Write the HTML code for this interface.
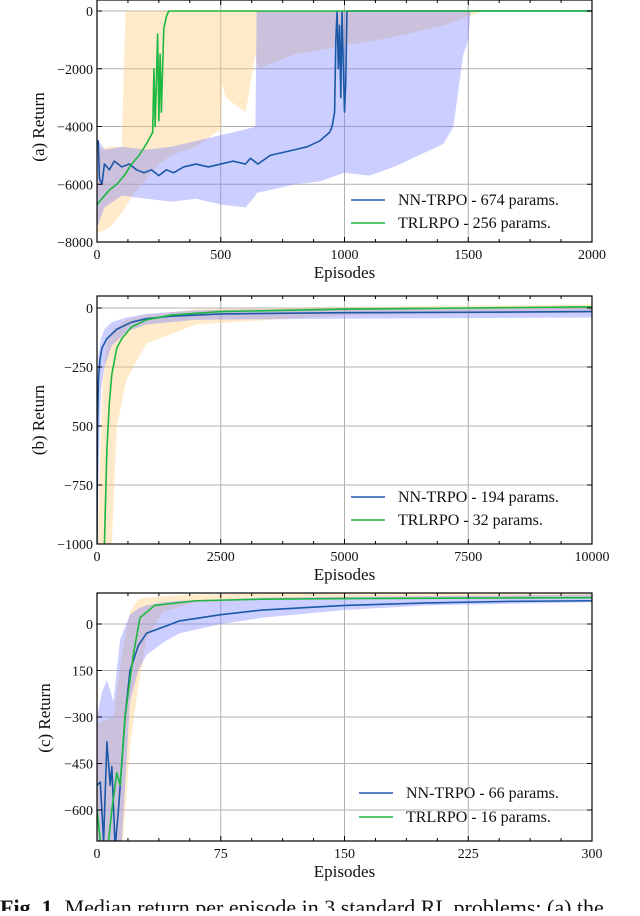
<!DOCTYPE html>
<html><head><meta charset="utf-8"><style>
body{margin:0;background:#fff;width:640px;height:911px;overflow:hidden}
svg text{font-family:"Liberation Serif",serif;fill:#111}
</style></head><body>
<svg id="fig" width="640" height="911" viewBox="0 0 640 911" xmlns="http://www.w3.org/2000/svg"></svg>
<script>
// ---- Panel (a) data ----
const aBlueX=[0,5,10,20,30,50,70,100,130,160,190,220,250,280,310,350,400,450,500,550,600,620,650,700,750,800,850,900,940,950,960,965,970,975,980,985,990,995,1000,1005,1010,2000];
const aBlueY=[-4600,-4500,-5800,-6000,-5300,-5500,-5200,-5400,-5300,-5500,-5600,-5500,-5700,-5500,-5600,-5400,-5300,-5400,-5300,-5200,-5300,-5100,-5300,-5000,-4900,-4800,-4700,-4500,-4200,-4000,-3500,-1000,0,-2000,-500,-3000,0,-1800,-3500,-2500,0,0];
const aGreenX=[0,20,50,80,110,140,170,200,225,230,235,245,250,255,260,265,270,280,290,2000];
const aGreenY=[-6700,-6500,-6200,-6000,-5700,-5300,-5000,-4600,-4200,-2000,-4000,-800,-3800,-1500,-3500,-2000,-600,-200,0,0];
const aOrX=[0,50,100,115,150,200,250,300,400,500,505,520,600,640,650,800,1000,1200,1400,1560,2000];
const aOrLo=[-7700,-7500,-7000,-6800,-6300,-5800,-5300,-5000,-4700,-4100,-2500,-3000,-3500,-1500,-2000,-1500,-1200,-900,-500,0,0];
const aOrHi=[-4800,-4700,-4700,0,0,0,0,0,0,0,0,0,0,0,0,0,0,0,0,0,0];
const aBbX=[0,30,100,200,300,400,500,600,640,645,700,800,900,1000,1100,1200,1300,1400,1440,1480,1500,1510,2000];
const aBbLo=[-7500,-6800,-6400,-6500,-6600,-6500,-6700,-6800,-6400,-6300,-6200,-6000,-5900,-5600,-5700,-5400,-5000,-4600,-4000,-1500,-1000,0,0];
const aBbHi=[-4400,-4800,-4700,-4800,-4700,-4500,-4300,-4100,-4000,0,0,0,0,0,0,0,0,0,0,0,0,0,0];
const aXTicks=[0,500,1000,1500,2000];
const aYTicks=[0,-2000,-4000,-6000,-8000];
const aYLabels=["0","\u22122000","\u22124000","\u22126000","\u22128000"];
// ---- Panel (b) data ----
const bBlueX=[0,10,30,60,100,200,400,700,1000,1500,2500,5000,7500,10000];
const bBlueY=[-1000,-500,-300,-220,-170,-130,-90,-60,-45,-35,-25,-20,-18,-15];
const bGreenX=[150,200,250,300,400,500,700,1000,1500,2500,5000,7500,10000];
const bGreenY=[-1000,-600,-400,-280,-170,-130,-80,-50,-30,-15,-5,0,5];
const bBbX=[0,30,80,150,300,600,1000,2000,5000,10000];
const bBbLo=[-1000,-700,-350,-250,-160,-100,-70,-50,-45,-40];
const bBbHi=[-300,-200,-130,-90,-60,-40,-25,-10,0,5];
const bOrX=[0,120,200,300,400,600,1000,2000,5000,10000];
const bOrLo=[-1000,-1000,-1000,-1000,-500,-300,-150,-70,-30,-20];
const bOrHi=[-1000,-300,-150,-100,-80,-50,-30,-5,5,15];
const bXTicks=[0,2500,5000,7500,10000];
const bYTicks=[0,-250,-500,-750,-1000];
const bYLabels=["0","\u2212250","500","\u2212750","\u22121000"];
// ---- Panel (c) data ----
const cBlueX=[0,2,4,6,8,9,11,13,17,20,25,30,40,50,75,100,150,200,250,300];
const cBlueY=[-520,-510,-700,-380,-520,-460,-720,-600,-300,-150,-70,-30,-10,10,30,45,60,68,73,75];
const cGreenX=[0,2,5,9,12,14,17,22,26,35,60,100,150,300];
const cGreenY=[-600,-700,-800,-600,-480,-520,-300,-100,20,60,75,80,82,85];
const cBbX=[0,3,6,10,14,20,25,30,40,50,75,100,150,200,300];
const cBbLo=[-750,-800,-800,-800,-800,-250,-150,-100,-60,-30,0,20,45,60,70];
const cBbHi=[-300,-220,-180,-250,-50,30,50,60,70,75,80,85,88,90,95];
const cOrX=[0,10,15,20,25,30,40,60,100,300];
const cOrLo=[-800,-800,-750,-400,-200,-50,40,70,78,88];
const cOrHi=[-320,-300,-100,40,80,85,90,95,98,102];
const cXTicks=[0,75,150,225,300];
const cYTicks=[0,-150,-300,-450,-600];
const cYLabels=["0","150","\u2212300","\u2212450","\u2212600"];

const NS="http://www.w3.org/2000/svg";
const svg=document.getElementById('fig');
function mk(tag,attrs,parent){const e=document.createElementNS(NS,tag);for(const k in attrs)e.setAttribute(k,attrs[k]);(parent||svg).appendChild(e);return e;}

function panel(p){
  const g=mk('g',{});
  
  
  const sx=v=>p.x0+(v-p.xmin)/(p.xmax-p.xmin)*(p.x1-p.x0);
  const sy=v=>p.yz+(v-p.ymaxRef)/(p.yminRef-p.ymaxRef)*(p.yb-p.yz);
  const clipId='clip-'+p.name;
  const cp=mk('clipPath',{id:clipId},g);mk('rect',{x:p.x0,y:p.top,width:p.x1-p.x0,height:p.bottom-p.top},cp);
  p.xt.forEach(v=>{const l=mk('line',{x1:sx(v),x2:sx(v),y1:p.top,y2:p.bottom,stroke:'#b0b0b0','stroke-width':1},g);});
  p.yt.forEach(v=>{const l=mk('line',{x1:p.x0,x2:p.x1,y1:sy(v),y2:sy(v),stroke:'#b0b0b0','stroke-width':1},g);});
  const cg=mk('g',{'clip-path':'url(#'+clipId+')'},g);
  function band(X,Lo,Hi,fill,nm){
    let pts=X.map((x,i)=>sx(x)+','+sy(Hi[i]));
    for(let i=X.length-1;i>=0;i--)pts.push(sx(X[i])+','+sy(Lo[i]));
    const e=mk('polygon',{points:pts.join(' '),fill:fill},cg);
    
    
  }
  function line(X,Y,col,nm){
    const e=mk('polyline',{points:X.map((x,i)=>sx(x)+','+sy(Y[i])).join(' '),fill:'none',stroke:col,'stroke-width':1.6,'stroke-linejoin':'round'},cg);
    
    
  }
  band(p.orX,p.orLo,p.orHi,'rgba(255,205,120,0.4)','trlrpo-band');
  band(p.bbX,p.bbLo,p.bbHi,'rgba(120,125,255,0.38)','nn-trpo-band');
  line(p.bX,p.bY,'#1b58a8','nn-trpo-line');
  line(p.gX,p.gY,'#1cb83f','trlrpo-line');
  const fr=mk('rect',{x:p.x0,y:p.top,width:p.x1-p.x0,height:p.bottom-p.top,fill:'none',stroke:'#000','stroke-width':1.2},g);
  
  p.xt.forEach((v,i)=>{
    mk('line',{x1:sx(v),x2:sx(v),y1:p.bottom,y2:p.bottom-5,stroke:'#000'},g);
    mk('line',{x1:sx(v),x2:sx(v),y1:p.top,y2:p.top+5,stroke:'#000'},g);
    if(i<p.xt.length-1)for(let k=1;k<4;k++){const m=v+(p.xt[1]-p.xt[0])*k/4;mk('line',{x1:sx(m),x2:sx(m),y1:p.bottom,y2:p.bottom-3,stroke:'#000'},g);mk('line',{x1:sx(m),x2:sx(m),y1:p.top,y2:p.top+3,stroke:'#000'},g);}
    const t=mk('text',{x:sx(v),y:p.bottom+17,'font-size':14,'text-anchor':'middle'},g);t.textContent=String(v);
    
  });
  p.yt.forEach((v,i)=>{
    mk('line',{x1:p.x0,x2:p.x0+5,y1:sy(v),y2:sy(v),stroke:'#000'},g);
    mk('line',{x1:p.x1,x2:p.x1-5,y1:sy(v),y2:sy(v),stroke:'#000'},g);
    const t=mk('text',{x:p.x0-4,y:sy(v)+5,'font-size':14,'text-anchor':'end'},g);t.textContent=p.yl[i];
    
  });
  const xt=mk('text',{x:(p.x0+p.x1)/2,y:p.bottom+36,'font-size':17,'text-anchor':'middle'},g);xt.textContent='Episodes';
  
  const yt=mk('text',{x:0,y:0,'font-size':17,'text-anchor':'middle',transform:'translate('+p.ytx+','+p.yty+') rotate(-90)'},g);yt.textContent=p.ytitle;
  
  const lg=mk('g',{},g);
  [[p.leg[0],'#1b58a8'],[p.leg[1],'#1cb83f']].forEach((e,i)=>{
    const y=p.legY+i*p.legDy;
    mk('line',{x1:p.legX,x2:p.legX+34,y1:y,y2:y,stroke:e[1],'stroke-width':1.6},lg);
    const t=mk('text',{x:p.legX+47,y:y+5,'font-size':16},lg);t.textContent=e[0];
    
  });
}

panel({name:'panel-a',x0:97,x1:592,top:0,bottom:242,xmin:0,xmax:2000,ymaxRef:0,yminRef:-8000,yz:11,yb:242,
 xt:aXTicks,yt:aYTicks,yl:aYLabels,bX:aBlueX,bY:aBlueY,gX:aGreenX,gY:aGreenY,orX:aOrX,orLo:aOrLo,orHi:aOrHi,bbX:aBbX,bbLo:aBbLo,bbHi:aBbHi,
 ytitle:'(a)  Return',ytx:44,yty:127,leg:['NN-TRPO - 674 params.','TRLRPO - 256 params.'],legX:351,legY:200,legDy:23});
panel({name:'panel-b',x0:97,x1:592,top:296,bottom:544,xmin:0,xmax:10000,ymaxRef:0,yminRef:-1000,yz:308,yb:544,
 xt:bXTicks,yt:bYTicks,yl:bYLabels,bX:bBlueX,bY:bBlueY,gX:bGreenX,gY:bGreenY,orX:bOrX,orLo:bOrLo,orHi:bOrHi,bbX:bBbX,bbLo:bBbLo,bbHi:bBbHi,
 ytitle:'(b)  Return',ytx:44,yty:420,leg:['NN-TRPO - 194 params.','TRLRPO - 32 params.'],legX:351,legY:497,legDy:23});
panel({name:'panel-c',x0:97,x1:592,top:593,bottom:841,xmin:0,xmax:300,ymaxRef:0,yminRef:-600,yz:624,yb:810,
 xt:cXTicks,yt:cYTicks,yl:cYLabels,bX:cBlueX,bY:cBlueY,gX:cGreenX,gY:cGreenY,orX:cOrX,orLo:cOrLo,orHi:cOrHi,bbX:cBbX,bbLo:cBbLo,bbHi:cBbHi,
 ytitle:'(c)  Return',ytx:50,yty:718,leg:['NN-TRPO - 66 params.','TRLRPO - 16 params.'],legX:359,legY:793,legDy:24});

const cap=mk('text',{x:0,y:915,'font-size':22});


const b=mk('tspan',{'font-weight':'bold'},cap);b.textContent='Fig. 1';
const r=mk('tspan',{dx:12},cap);r.textContent='Median return per episode in 3 standard RL problems: (a) the';
</script>
</body></html>
